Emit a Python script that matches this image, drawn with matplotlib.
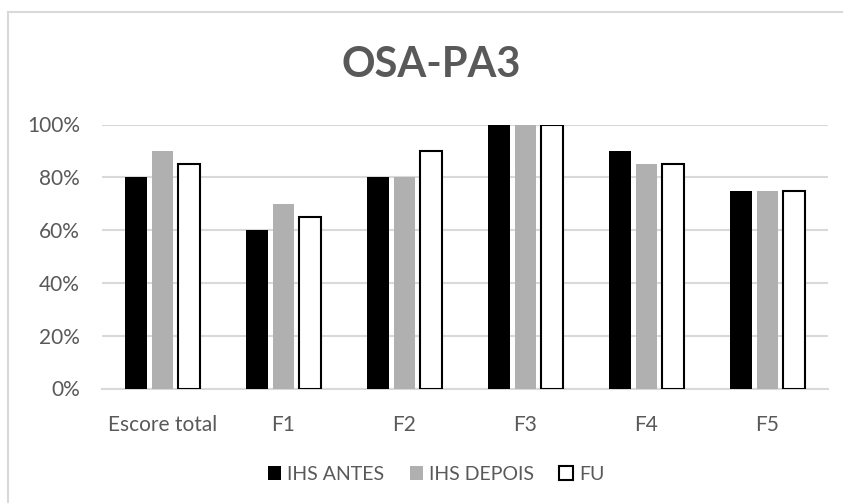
import numpy
from matplotlib import pyplot
from matplotlib.lines import Line2D
from matplotlib.ticker import FuncFormatter

Categories = ['Escore total', 'F1', 'F2', 'F3', 'F4', 'F5']
IhsAntes = [0.80, 0.60, 0.80, 1.00, 0.90, 0.75]
IhsDepois = [0.90, 0.70, 0.80, 1.00, 0.85, 0.75]
Fu = [0.85, 0.65, 0.90, 1.00, 0.85, 0.75]
SeriesNames = ['IHS ANTES', 'IHS DEPOIS', 'FU']
Title = 'OSA-PA3'

TextColor = '#595959'
GridColor = '#D9D9D9'

pyplot.rcParams['font.family'] = ['Lato', 'DejaVu Sans']


def Run():
  W, H = 843, 503
  fig = pyplot.figure(figsize=(W / 100., H / 100.), dpi=100)
  ax = fig.add_axes([102. / W, 1 - 388.5 / H, 726. / W, 264. / H])

  # Chart border (only left and top visible in the crop).
  fig.add_artist(Line2D([8. / W, 8. / W], [0, 1 - 12. / H], color=GridColor, linewidth=1.5))
  fig.add_artist(Line2D([8. / W, 1], [1 - 12. / H, 1 - 12. / H], color=GridColor, linewidth=1.5))

  x = numpy.arange(len(Categories))
  width = 0.178
  pitch = 0.219
  ax.bar(x - pitch, IhsAntes, width, color='black', label=SeriesNames[0], zorder=3)
  ax.bar(x, IhsDepois, width, color='#B0B0B0', label=SeriesNames[1], zorder=3)
  ax.bar(x + pitch, Fu, width, color='white', edgecolor='black', linewidth=1.5,
         label=SeriesNames[2], zorder=3)

  ax.set_xlim(-0.5, len(Categories) - 0.5)
  ax.set_ylim(0, 1.0)
  ax.set_yticks(numpy.arange(0, 1.01, 0.2))
  ax.yaxis.set_major_formatter(FuncFormatter(lambda v, p: '{:.0%}'.format(v)))
  ax.set_xticks(x)
  ax.set_xticklabels(Categories)
  ax.yaxis.grid(color=GridColor, linewidth=1.5, zorder=0)
  ax.set_axisbelow(True)
  for s in ('top', 'right', 'left'):
    ax.spines[s].set_visible(False)
  ax.spines['bottom'].set_color(GridColor)
  ax.spines['bottom'].set_linewidth(1.5)
  ax.tick_params(length=0, labelsize=15, labelcolor=TextColor)
  ax.tick_params(axis='y', pad=16)
  ax.tick_params(axis='x', pad=19)

  fig.text(431. / W, 1 - 65. / H, Title, ha='center', va='center', fontsize=30,
           fontweight='bold', color=TextColor)

  fig.legend(loc='center', bbox_to_anchor=(436. / W, 1 - 474. / H), ncol=3, frameon=False,
             fontsize=14, labelcolor=TextColor, handlelength=0.7, handleheight=0.7,
             handletextpad=0.3, columnspacing=1.3)

  fig.savefig('out.png', dpi=100)


if __name__ == '__main__':
  Run()
